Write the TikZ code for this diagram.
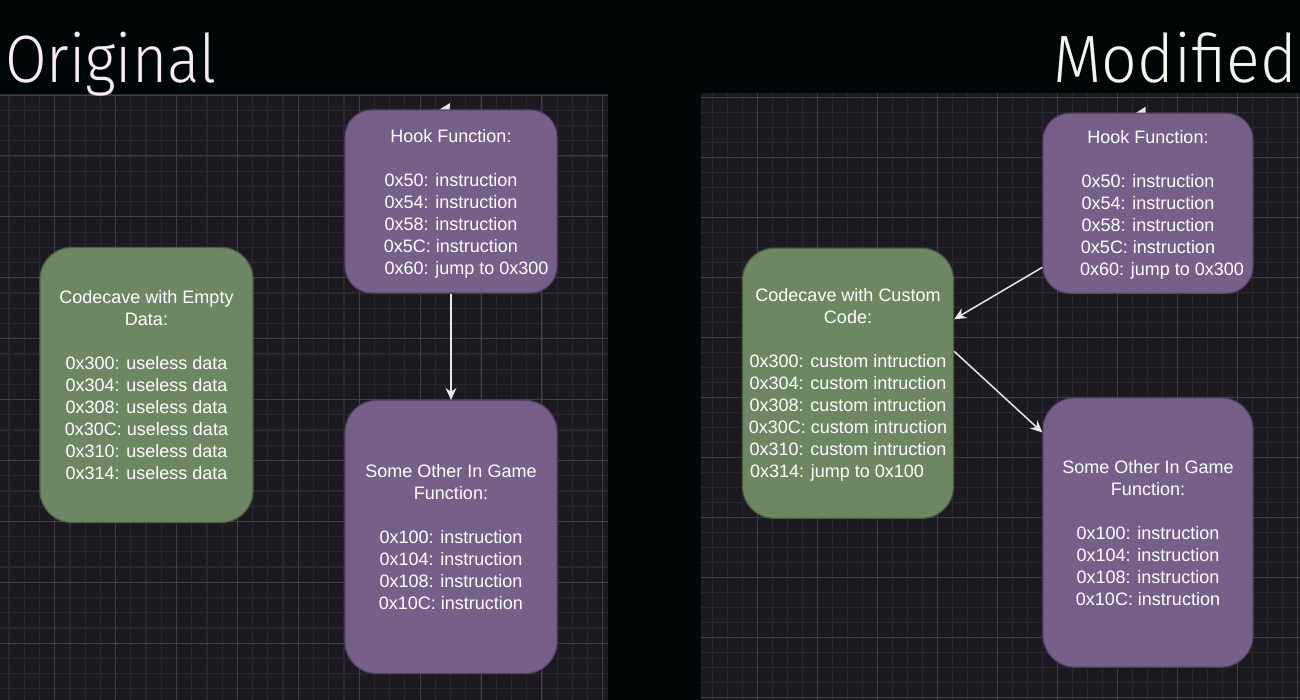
\documentclass[tikz,border=0pt]{standalone}
\usepackage{fontspec}
\usepackage{graphicx}
\setmainfont{Liberation Sans}
\newfontfamily\titlefont{Fira Sans Light}
\usetikzlibrary{arrows.meta}
\definecolor{outbg}{HTML}{010606}
\definecolor{panelbg}{HTML}{1C1921}
\definecolor{minorc}{HTML}{2A2730}
\definecolor{majorc}{HTML}{413E46}
\definecolor{purplefill}{HTML}{76608A}
\definecolor{purpleline}{HTML}{5A4470}
\definecolor{greenfill}{HTML}{6D8764}
\definecolor{greenline}{HTML}{4A6441}
\definecolor{arrowc}{HTML}{E8E8E8}
\definecolor{origc}{HTML}{F8ECF8}
\definecolor{modc}{HTML}{EEF8EE}
\tikzset{
  box/.style={draw, line width=1.2pt, align=center, text=white, inner sep=0pt, text depth=0pt,
    font=\fontsize{18}{22}\selectfont},
  pbox/.style={box, fill=purplefill, draw=purpleline},
  gbox/.style={box, fill=greenfill, draw=greenline},
  link/.style={draw=arrowc, line width=1.5pt, -{Stealth[length=12pt,width=11pt,inset=4pt]}},
  minorline/.style={draw=minorc, line width=1.2pt},
  majorline/.style={draw=majorc, line width=1pt},
  titletext/.style={inner sep=0pt, font=\titlefont\fontsize{67}{67}\selectfont},
  frag/.style={fill=arrowc, draw=none}
}
\begin{document}
\begin{tikzpicture}[x=1pt,y=-1pt]
\useasboundingbox (0,0) rectangle (1300,700);
\fill[outbg] (0,0) rectangle (1300,700);

% left panel grid
\begin{scope}
  \clip (0,95) rectangle (608,700);
  \fill[panelbg] (0,95) rectangle (608,700);
  \foreach \i in {0,...,41} {\draw[minorline] ({-6.2+15.225*\i},95) -- ++(0,605);}
  \foreach \j in {0,...,40} {\draw[minorline] (0,{95.1+15.225*\j}) -- ++(608,0);}
  \foreach \i in {0,...,11} {\draw[majorline] ({-6.2+60.9*\i},95) -- ++(0,605);}
  \foreach \j in {0,...,10} {\draw[majorline] (0,{95.1+60.9*\j}) -- ++(608,0);}
\end{scope}

% right panel grid
\begin{scope}
  \clip (700.5,93.5) rectangle (1300,700);
  \fill[panelbg] (700.5,93.5) rectangle (1300,700);
  \foreach \i in {0,...,41} {\draw[minorline] ({697.7+15*\i},93.5) -- ++(0,607);}
  \foreach \j in {0,...,41} {\draw[minorline] (700,{82.3+15*\j}) -- ++(600,0);}
  \foreach \i in {0,...,11} {\draw[majorline] ({697.7+60*\i},93.5) -- ++(0,607);}
  \foreach \j in {0,...,11} {\draw[majorline] (700,{97.3+60*\j}) -- ++(600,0);}
\end{scope}

% arrowhead fragments peeking above the hook boxes
\fill[frag] (438,110.5) -- (450,103) -- (449.5,110.5) -- cycle;
\fill[frag] (1135,113.5) -- (1145.7,106.7) -- (1145.5,113.5) -- cycle;

% titles
\node[titletext, text=origc, anchor=base west] (orig) at (5,83) {\scalebox{0.9}[1]{Original}};
\node[titletext, text=modc, anchor=base east] (modi) at (1297,83) {\scalebox{0.935}[1]{Modified}};

% left diagram
\node[pbox, minimum width=212pt, minimum height=183pt, rounded corners=27pt] (hookL) at (451,201.5)
  {Hook Function:\\[22pt]0x50: instruction\\0x54: instruction\\0x58: instruction\\0x5C: instruction\\\mbox{\hspace{31pt}0x60: jump to 0x300}};
\node[pbox, minimum width=212pt, minimum height=273pt, rounded corners=32pt] (gameL) at (451,537)
  {Some Other In Game\\Function:\\[22pt]0x100: instruction\\0x104: instruction\\0x108: instruction\\0x10C: instruction};
\node[gbox, minimum width=213pt, minimum height=275pt, rounded corners=32pt] (caveL) at (146.5,385)
  {Codecave with Empty\\Data:\\[22pt]0x300: useless data\\0x304: useless data\\0x308: useless data\\0x30C: useless data\\0x310: useless data\\0x314: useless data};
\draw[link] (hookL.south) -- (gameL.north);

% right diagram
\node[pbox, minimum width=210pt, minimum height=180pt, rounded corners=27pt] (hookR) at (1148,203.3)
  {Hook Function:\\[22pt]0x50: instruction\\0x54: instruction\\0x58: instruction\\0x5C: instruction\\\mbox{\hspace{28pt}0x60: jump to 0x300}};
\node[pbox, minimum width=210pt, minimum height=269pt, rounded corners=32pt] (gameR) at (1148,532.5)
  {Some Other In Game\\Function:\\[22pt]0x100: instruction\\0x104: instruction\\0x108: instruction\\0x10C: instruction};
\node[gbox, minimum width=211pt, minimum height=270pt, rounded corners=32pt] (caveR) at (848,383.3)
  {Codecave with Custom\\Code:\\[22pt]0x300: custom intruction\\0x304: custom intruction\\0x308: custom intruction\\0x30C: custom intruction\\0x310: custom intruction\\\mbox{0x314: jump to 0x100\hspace{22pt}}};
\draw[link] ([yshift=-64pt]hookR.west) -- ([yshift=64pt]caveR.east);
\draw[link] ([yshift=32pt]caveR.east) -- ([yshift=100pt]gameR.west);
\end{tikzpicture}
\end{document}
